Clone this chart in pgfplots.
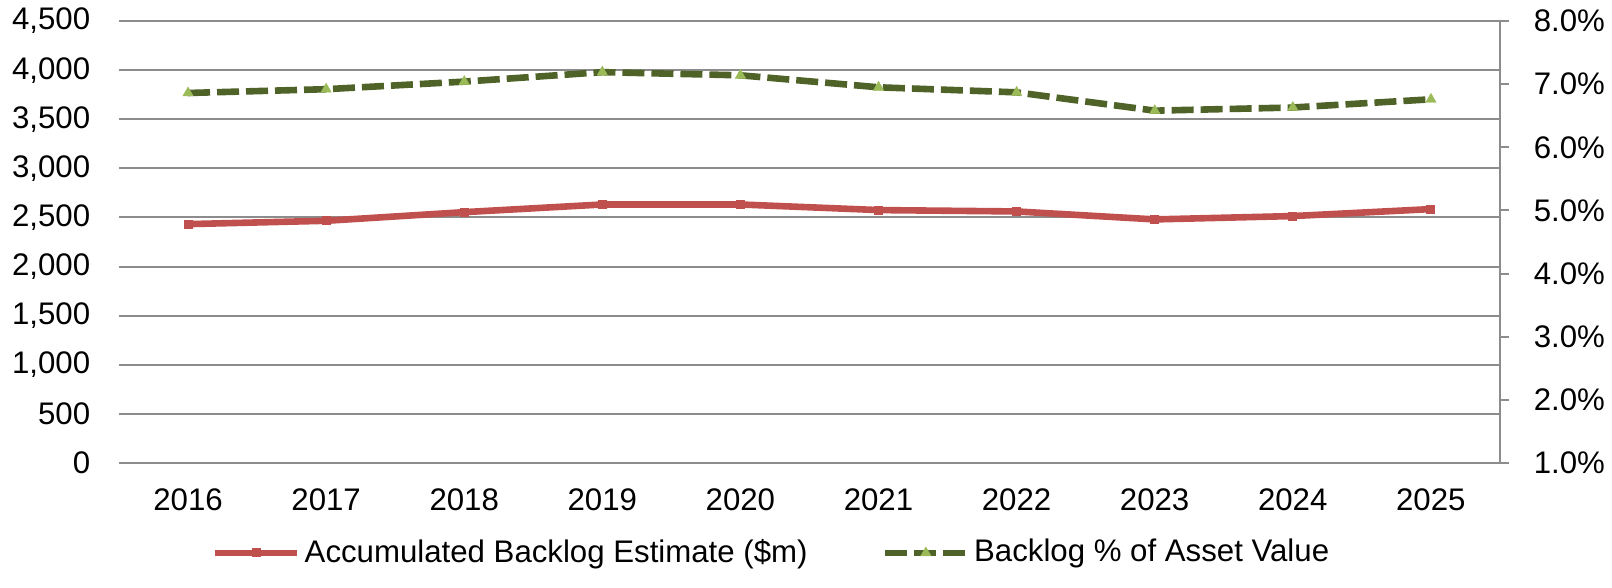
\documentclass[border=0pt]{standalone}
\usepackage{fontspec}
\setmainfont{Liberation Sans}
\usepackage{pgfplots}
\pgfplotsset{compat=1.18}
\definecolor{cred}{HTML}{C0504D}
\definecolor{cdkgreen}{HTML}{4F6228}
\definecolor{cltgreen}{HTML}{9BBB59}
\definecolor{cgrid}{HTML}{8C8C8C}
\begin{document}
\fontsize{15.6}{18}\selectfont
\begin{tikzpicture}
\useasboundingbox (-59.5pt,-62.5pt) rectangle (746.5pt,231.5pt);
\pgfplotsset{
  every axis/.append style={
    scale only axis, width=690.5pt, height=221pt,
    xmin=2015.5, xmax=2025.5,
    font=\fontsize{15.6}{18}\selectfont,
    /pgf/number format/assume math mode=true,
  }
}
\begin{axis}[
  ymin=0, ymax=4500,
  ytick={0,500,...,4500},
  xtick={2016,2017,...,2025},
  xticklabel style={/pgf/number format/1000 sep={}, yshift=-7.5pt},
  yticklabel style={/pgf/number format/1000 sep={,}, xshift=-9pt},
  axis line style={draw=none},
  major tick style={draw=none},
  ymajorgrids,
  major grid style={cgrid, line width=1pt},
  clip=false,
  legend style={at={(0.0628,-0.2036)}, anchor=west, draw=none, fill=none,
    legend columns=2, font=\fontsize{15.6}{18}\selectfont,
    /tikz/every even column/.append style={column sep=35pt},
    legend cell align=left},
  legend image code/.code={\draw[#1, mark repeat=2, mark phase=2] plot coordinates {(0pt,0pt) (20.5pt,0pt) (41pt,0pt)};},
]
\addplot[cred, line width=3.3pt, mark=square*, mark size=2pt, mark options={solid, fill=cred, draw=cred, line width=0.5pt}]
  coordinates {(2016,2432) (2017,2466) (2018,2554) (2019,2632) (2020,2632) (2021,2575) (2022,2561) (2023,2480) (2024,2514) (2025,2585)};
\addlegendentry{Accumulated Backlog Estimate (\$m)}
\addlegendimage{cdkgreen, line width=3.3pt, dash pattern=on 11pt off 3.5pt, mark=triangle*, mark size=3pt, mark options={solid, fill=cltgreen, draw=cltgreen, line width=0.2pt}}
\addlegendentry{Backlog \% of Asset Value}
\end{axis}
\begin{axis}[
  ymin=1, ymax=8,
  ytick={1,2,...,8},
  axis x line=none,
  axis y line*=right,
  axis line style={cgrid, line width=1pt},
  y axis line style={-},
  tick align=outside,
  major tick length=4.5pt,
  major tick style={cgrid, line width=1pt},
  yticklabel={\pgfmathprintnumber[fixed,fixed zerofill,precision=1]{\tick}\%},
  yticklabel style={xshift=7pt},
  clip=false,
]
\addplot[cdkgreen, line width=3.3pt, dash pattern=on 11pt off 3.5pt, mark=triangle*, mark size=3pt, mark options={solid, fill=cltgreen, draw=cltgreen, line width=0.2pt}]
  coordinates {(2016,6.86) (2017,6.92) (2018,7.04) (2019,7.19) (2020,7.14) (2021,6.95) (2022,6.87) (2023,6.58) (2024,6.63) (2025,6.76)};
\end{axis}
\end{tikzpicture}
\end{document}
